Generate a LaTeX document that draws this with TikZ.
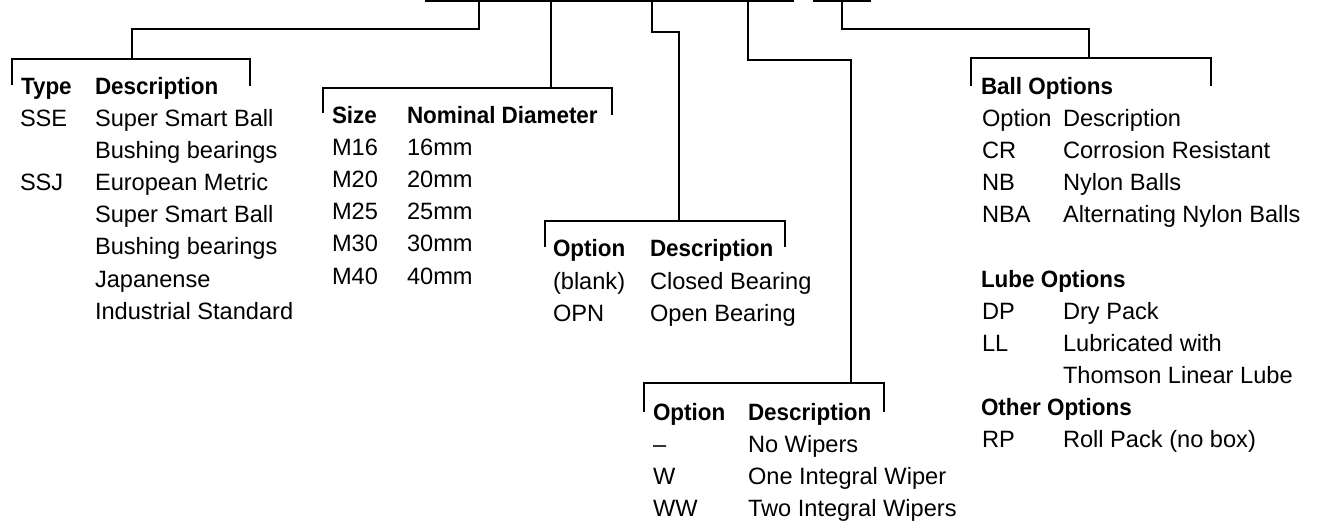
\documentclass[tikz,border=0pt]{standalone}
\usepackage{fontspec}
\setmainfont{Liberation Sans}[BoldFeatures={FakeStretch=0.95}]
\begin{document}
\begin{tikzpicture}[x=1bp,y=-1bp,
  txt/.style={anchor=base west, inner sep=0pt, outer sep=0pt, font=\fontsize{23.7}{28}\selectfont},
  hd/.style={txt, font=\fontsize{23.7}{28}\selectfont\bfseries},
  ln/.style={line width=2bp, line cap=butt, line join=miter}]
\fill[white] (0,0) rectangle (1320,528);
\useasboundingbox (0,0) rectangle (1320,528);
\def\p{32}
% top bars
\coordinate (barAl) at (425,0.8); \coordinate (barAr) at (794,0.8);
\coordinate (barBl) at (813,0.8); \coordinate (barBr) at (871,0.8);
\draw[ln] (barAl) -- (barAr);
\draw[ln] (barBl) -- (barBr);
% connector 1 -> type
\coordinate (c1) at (479,0); \coordinate (b1) at (132,59);
\draw[ln] (c1) |- (132,29) -- (b1);
\draw[ln] (12,85) -- (12,59) -- (250,59) -- (250,86);
% connector 2 -> size
\coordinate (c2) at (551,0); \coordinate (b2) at (551,88);
\draw[ln] (c2) -- (b2);
\draw[ln] (323,113) -- (323,88) -- (612,88) -- (612,115);
% connector 3 -> option
\coordinate (c3) at (652,0); \coordinate (b3) at (679,221);
\draw[ln] (c3) |- (679,32) -- (b3);
\draw[ln] (545,247) -- (545,221) -- (785,221) -- (785,247);
% connector 4 -> wipers
\coordinate (c4) at (748,0); \coordinate (b4) at (851,383);
\draw[ln] (c4) |- (851,60) -- (b4);
\draw[ln] (644,412) -- (644,383) -- (884,383) -- (884,412);
% connector 5 -> ball options
\coordinate (c5) at (842,0); \coordinate (b5) at (1089,58);
\draw[ln] (c5) |- (1089,29) -- (b5);
\draw[ln] (971,86) -- (971,58) -- (1211,58) -- (1211,86);

% Type table
\node[hd] (tyh1) at (21,95) {Type};
\node[hd] (tyh2) at (95,95) {Description};
\node[txt] (ty1a) at (20,95+\p) {SSE};
\node[txt] (ty1b) at (95,95+\p) {Super Smart Ball};
\node[txt] (ty2b) at (95,95+2*\p) {Bushing bearings};
\node[txt] (ty3a) at (20,95+3*\p) {SSJ};
\node[txt] (ty3b) at (95,95+3*\p) {European Metric};
\node[txt] (ty4b) at (95,95+4*\p) {Super Smart Ball};
\node[txt] (ty5b) at (95,95+5*\p) {Bushing bearings};
\node[txt] (ty6b) at (95,95+6*\p) {Japanense};
\node[txt] (ty7b) at (95,95+7*\p) {Industrial Standard};

% Size table
\node[hd] (szh1) at (332,124) {Size};
\node[hd] (szh2) at (407,124) {Nominal Diameter};
\node[txt] (sz1a) at (332,124+\p) {M16};
\node[txt] (sz1b) at (407,124+\p) {16mm};
\node[txt] (sz2a) at (332,124+2*\p) {M20};
\node[txt] (sz2b) at (407,124+2*\p) {20mm};
\node[txt] (sz3a) at (332,124+3*\p) {M25};
\node[txt] (sz3b) at (407,124+3*\p) {25mm};
\node[txt] (sz4a) at (332,124+4*\p) {M30};
\node[txt] (sz4b) at (407,124+4*\p) {30mm};
\node[txt] (sz5a) at (332,124+5*\p) {M40};
\node[txt] (sz5b) at (407,124+5*\p) {40mm};

% Option table
\node[hd] (oph1) at (553,257) {Option};
\node[hd] (oph2) at (650,257) {Description};
\node[txt] (op1a) at (553,257+\p) {(blank)};
\node[txt] (op1b) at (650,257+\p) {Closed Bearing};
\node[txt] (op2a) at (553,257+2*\p) {OPN};
\node[txt] (op2b) at (650,257+2*\p) {Open Bearing};

% Wiper table
\node[hd] (wph1) at (653,420) {Option};
\node[hd] (wph2) at (748,420) {Description};
\node[txt] (wp1a) at (653,420+\p) {–};
\node[txt] (wp1b) at (748,420+\p) {No Wipers};
\node[txt] (wp2a) at (653,420+2*\p) {W};
\node[txt] (wp2b) at (748,420+2*\p) {One Integral Wiper};
\node[txt] (wp3a) at (653,420+3*\p) {WW};
\node[txt] (wp3b) at (748,420+3*\p) {Two Integral Wipers};

% Ball options
\node[hd] (bah) at (981,95) {Ball Options};
\node[txt] (ba0a) at (982,95+\p) {Option};
\node[txt] (ba0b) at (1063,95+\p) {Description};
\node[txt] (ba1a) at (982,95+2*\p) {CR};
\node[txt] (ba1b) at (1063,95+2*\p) {Corrosion Resistant};
\node[txt] (ba2a) at (982,95+3*\p) {NB};
\node[txt] (ba2b) at (1063,95+3*\p) {Nylon Balls};
\node[txt] (ba3a) at (982,95+4*\p) {NBA};
\node[txt] (ba3b) at (1063,95+4*\p) {Alternating Nylon Balls};
\node[hd] (luh) at (981,95+6*\p) {Lube Options};
\node[txt] (lu1a) at (982,95+7*\p) {DP};
\node[txt] (lu1b) at (1063,95+7*\p) {Dry Pack};
\node[txt] (lu2a) at (982,95+8*\p) {LL};
\node[txt] (lu2b) at (1063,95+8*\p) {Lubricated with};
\node[txt] (lu3b) at (1063,95+9*\p) {Thomson Linear Lube};
\node[hd] (oth) at (981,95+10*\p) {Other Options};
\node[txt] (ot1a) at (982,95+11*\p) {RP};
\node[txt] (ot1b) at (1063,95+11*\p) {Roll Pack (no box)};
\end{tikzpicture}
\end{document}
